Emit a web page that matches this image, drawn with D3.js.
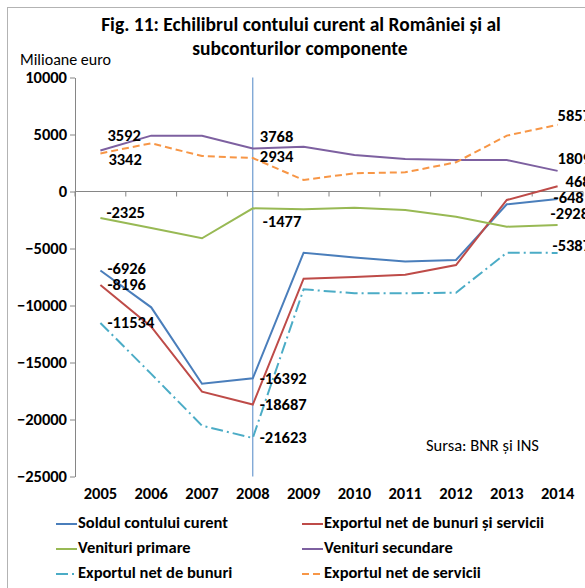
<!DOCTYPE html>
<html>
<head>
<meta charset="utf-8">
<script src="https://cdn.jsdelivr.net/npm/d3@7"></script>
<style>
  body { margin: 0; background: #fff; }
  svg { display: block; font-family: Carlito, Calibri, Lato, sans-serif; }
</style>
</head>
<body>
<div id="target"></div>
<script>
const years = ["2005", "2006", "2007", "2008", "2009", "2010", "2011", "2012", "2013", "2014"]
const yTicks = [10000, 5000, 0, -5000, -10000, -15000, -20000, -25000]

const soldul = [-6926, -10160, -16860, -16392, -5370, -5780, -6150, -6010, -1125, -648]
const exportBunuriServicii = [-8196, -11860, -17560, -18687, -7650, -7500, -7300, -6450, -745, 468]
const venituriPrimare = [-2325, -3200, -4100, -1477, -1560, -1420, -1620, -2210, -3090, -2928]
const venituriSecundare = [3592, 4900, 4880, 3768, 3930, 3200, 2850, 2760, 2760, 1809]
const exportBunuri = [-11534, -16000, -20540, -21623, -8580, -8930, -8930, -8880, -5370, -5387]
const exportServicii = [3342, 4230, 3110, 2934, 1010, 1600, 1680, 2560, 4900, 5857]

const seriesNames = ["Soldul contului curent", "Exportul net de bunuri și servicii", "Venituri primare",
  "Venituri secundare", "Exportul net de bunuri", "Exportul net de servicii"]
const seriesValues = [soldul, exportBunuriServicii, venituriPrimare, venituriSecundare, exportBunuri, exportServicii]
const labelYears = ["2005", "2008", "2014"]

// style: colour, dash, label offsets for 2005 / 2008 / 2014
const styles = [
  { color: "#4a7ebb", dash: null, off: [[7, 0], [7, 2], [-4, 0]] },
  { color: "#be4b48", dash: null, off: [[7, 1], [7, 1], [8, -3]] },
  { color: "#98b954", dash: null, off: [[6, -4], [10, 15], [-7, -10]] },
  { color: "#7d60a0", dash: null, off: [[7, -14], [7, -11], [0, -11]] },
  { color: "#4bacc6", dash: "12,4,2,4", off: [[7, 1], [7, 1], [-5, -6]] },
  { color: "#f79646", dash: "7,4", off: [[8, 8], [7, 0], [0, -8]] }
]

const width = 585, height = 588
const labelSize = 16.5

const svg = d3.select("#target").append("svg")
  .attr("width", width)
  .attr("height", height)

//Frame
svg.append("rect")
  .attr("x", 7.5).attr("y", 7.5)
  .attr("width", 640).attr("height", 640)
  .attr("fill", "none")
  .attr("stroke", "#b3b3b3")

//Title
svg.append("text")
  .attr("x", 301).attr("y", 26)
  .attr("text-anchor", "middle").attr("dominant-baseline", "middle")
  .attr("font-weight", "bold").attr("font-size", 19.5)
  .text("Fig. 11: Echilibrul contului curent al României și al")
svg.append("text")
  .attr("x", 300).attr("y", 50)
  .attr("text-anchor", "middle").attr("dominant-baseline", "middle")
  .attr("font-weight", "bold").attr("font-size", 19.5)
  .text("subconturilor componente")

svg.append("text")
  .attr("x", 20).attr("y", 61)
  .attr("dominant-baseline", "middle")
  .attr("font-size", 16)
  .text("Milioane euro")

//Scales
const x = d3.scaleBand().domain(years).range([75, 583])
const y = d3.scaleLinear().domain([-25000, 10000]).range([476.5, 77.5])
const cx = d => x(d) + x.bandwidth() / 2

//Y axis
const yAxis = svg.append("g")
  .attr("transform", "translate(75,0)")
  .call(d3.axisLeft(y).tickValues(yTicks).tickSize(5).tickSizeOuter(0).tickPadding(3).tickFormat(d3.format("d")))
yAxis.select(".domain").attr("stroke", "#868686")
yAxis.selectAll(".tick line").attr("stroke", "#868686")
yAxis.selectAll(".tick text")
  .attr("font-family", "Carlito, Calibri, Lato, sans-serif")
  .attr("font-weight", "bold").attr("font-size", 16.5).attr("fill", "#000")

//Zero line with category ticks
const zero = svg.append("g")
zero.append("line")
  .attr("x1", x.range()[0]).attr("x2", x.range()[1])
  .attr("y1", y(0)).attr("y2", y(0))
  .attr("stroke", "#868686")
zero.selectAll("line.tk")
  .data(years.map(d => x(d)).concat([x.range()[1]]))
  .enter().append("line")
  .attr("class", "tk")
  .attr("x1", d => d).attr("x2", d => d)
  .attr("y1", y(0)).attr("y2", y(0) + 5)
  .attr("stroke", "#868686")

//X labels
const xAxis = svg.append("g")
  .attr("transform", "translate(0,487)")
  .call(d3.axisBottom(x).tickSize(0).tickPadding(0))
xAxis.select(".domain").remove()
xAxis.selectAll(".tick text")
  .attr("font-family", "Carlito, Calibri, Lato, sans-serif")
  .attr("font-weight", "bold").attr("font-size", 16.5).attr("fill", "#000")

//2008 marker line
svg.append("line")
  .attr("x1", cx("2008")).attr("x2", cx("2008"))
  .attr("y1", y(10000)).attr("y2", y(-25000))
  .attr("stroke", "#4f86c6").attr("stroke-width", 1)

//Lines
const line = d3.line()
  .x((d, i) => cx(years[i]))
  .y(d => y(d))

seriesValues.forEach((vals, s) => {
  svg.append("path")
    .attr("d", line(vals))
    .attr("fill", "none")
    .attr("stroke", styles[s].color)
    .attr("stroke-width", 2)
    .attr("stroke-dasharray", styles[s].dash)
})

//Data labels
seriesValues.forEach((vals, s) => {
  labelYears.forEach((yr, k) => {
    const i = years.indexOf(yr)
    const [dx, dy] = styles[s].off[k]
    svg.append("text")
      .attr("x", cx(yr) + dx)
      .attr("y", y(vals[i]) + dy)
      .attr("dominant-baseline", "middle")
      .attr("font-weight", "bold").attr("font-size", labelSize)
      .text(vals[i])
  })
})

//Source
svg.append("text")
  .attr("x", 426).attr("y", 447)
  .attr("dominant-baseline", "middle")
  .attr("font-size", 16.5)
  .text("Sursa: BNR și INS")

//Legend
const legend = svg.append("g")
seriesNames.forEach((name, s) => {
  const col = s % 2, row = Math.floor(s / 2)
  const lx = col === 0 ? 56 : 302
  const ly = 524 + row * 25
  legend.append("line")
    .attr("x1", lx).attr("x2", lx + 21)
    .attr("y1", ly).attr("y2", ly)
    .attr("stroke", styles[s].color).attr("stroke-width", 2)
    .attr("stroke-dasharray", styles[s].dash)
  legend.append("text")
    .attr("x", lx + 22).attr("y", ly)
    .attr("dominant-baseline", "middle")
    .attr("font-weight", "bold").attr("font-size", 16.5)
    .text(name)
})
</script>
</body>
</html>
